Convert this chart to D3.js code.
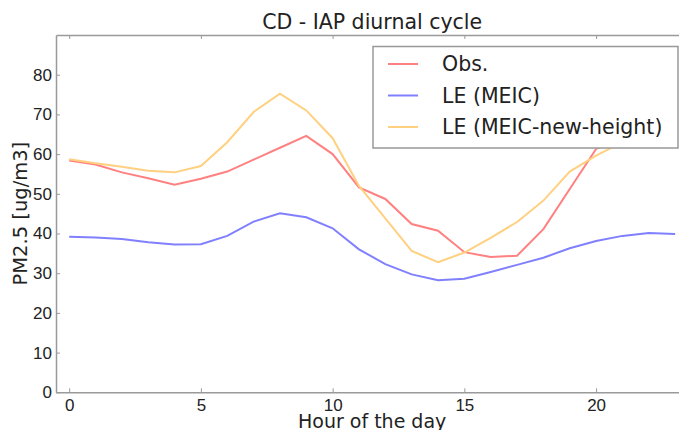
<!DOCTYPE html>
<html>
<head>
<meta charset="utf-8">
<script src="https://cdn.jsdelivr.net/npm/d3@7"></script>
<style>
  body { margin: 0; background: #fff; }
  svg { display: block; font-family: "DejaVu Sans", sans-serif; }
</style>
</head>
<body>
<div id="chart"></div>
<script>
// hours of the day
const hours = d3.range(0, 24);

// values
const obs = [58.4, 57.4, 55.4, 53.9, 52.3, 53.8, 55.6, 58.6, 61.6, 64.6, 60.0, 51.6,
             48.7, 42.4, 40.7, 35.3, 34.1, 34.4, 41.1, 51.2, 61.3, 64.5, 65.5, 64.0];
const leMeic = [39.2, 39.0, 38.6, 37.8, 37.2, 37.3, 39.4, 43.0, 45.1, 44.1, 41.3, 36.0,
                32.3, 29.7, 28.2, 28.6, 30.3, 32.1, 33.9, 36.3, 38.1, 39.4, 40.1, 39.9];
const leNewHeight = [58.7, 57.7, 56.8, 55.8, 55.4, 57.0, 63.0, 70.6, 75.2, 71.0, 64.0, 52.0,
                     43.8, 35.6, 32.8, 35.2, 38.9, 42.9, 48.3, 55.6, 59.6, 63.0, 63.6, 62.0];

const seriesNames = ["Obs.", "LE (MEIC)", "LE (MEIC-new-height)"];
const seriesColors = ["#ff8080", "#8080ff", "#ffd080"];
const yTicks = [0, 10, 20, 30, 40, 50, 60, 70, 80];
const xTicks = [0, 5, 10, 15, 20];

const width = 679, height = 430;
const marginLeft = 56, marginTop = 35, plotBottom = 392.3;

const x = d3.scaleLinear().domain([-0.5, 23.5]).range([marginLeft, 688.3]);
const y = d3.scaleLinear().domain([0, 90]).range([plotBottom, marginTop]);

const svg = d3.select("#chart").append("svg")
    .attr("width", width)
    .attr("height", height)
    .attr("viewBox", [0, 0, width, height]);

const spine = "#9a9a9a";

// lines
const line = d3.line()
    .x((d, i) => x(hours[i]))
    .y(d => y(d));

const allSeries = [obs, leMeic, leNewHeight];
svg.append("g")
    .attr("fill", "none")
    .attr("stroke-width", 2)
    .selectAll("path")
    .data(allSeries)
    .join("path")
    .attr("stroke", (d, i) => seriesColors[i])
    .attr("d", d => line(d));

// x axis bottom
svg.append("g")
    .attr("transform", `translate(0,${plotBottom})`)
    .call(d3.axisBottom(x).tickValues(xTicks).tickSizeInner(-4).tickSizeOuter(0).tickPadding(7))
    .call(g => g.select(".domain").attr("stroke", spine).attr("stroke-width", 1.5))
    .call(g => g.selectAll(".tick line").attr("stroke", spine))
    .call(g => g.selectAll(".tick text").attr("font-size", 17).attr("fill", "#222"));

// top ticks
svg.append("g")
    .attr("transform", `translate(0,${marginTop})`)
    .call(d3.axisTop(x).tickValues(xTicks).tickSizeInner(-4).tickSizeOuter(0).tickFormat(""))
    .call(g => g.select(".domain").attr("stroke", spine).attr("stroke-width", 1.5))
    .call(g => g.selectAll(".tick line").attr("stroke", spine));

// y axis
svg.append("g")
    .attr("transform", `translate(${marginLeft},0)`)
    .call(d3.axisLeft(y).tickValues(yTicks).tickSizeInner(-4).tickSizeOuter(0).tickPadding(4))
    .call(g => g.select(".domain").attr("stroke", spine).attr("stroke-width", 1.5))
    .call(g => g.selectAll(".tick line").attr("stroke", spine))
    .call(g => g.selectAll(".tick text").attr("font-size", 17).attr("fill", "#222"));

// title and axis labels
svg.append("text")
    .attr("x", (marginLeft + 688.3) / 2)
    .attr("y", 29)
    .attr("text-anchor", "middle")
    .attr("font-size", 20.5)
    .attr("fill", "#222")
    .text("CD - IAP diurnal cycle");

svg.append("text")
    .attr("x", (marginLeft + 688.3) / 2)
    .attr("y", 428)
    .attr("text-anchor", "middle")
    .attr("font-size", 19)
    .attr("fill", "#222")
    .text("Hour of the day");

svg.append("text")
    .attr("transform", `translate(27,${(marginTop + plotBottom) / 2}) rotate(-90)`)
    .attr("text-anchor", "middle")
    .attr("font-size", 19.5)
    .attr("fill", "#222")
    .text("PM2.5 [ug/m3]");

// legend
const legend = svg.append("g").attr("transform", "translate(373,46.5)");
legend.append("rect")
    .attr("width", 305)
    .attr("height", 101.5)
    .attr("fill", "#fff")
    .attr("stroke", "#999")
    .attr("stroke-width", 1.5);

const item = legend.selectAll("g.item")
    .data(seriesNames)
    .join("g")
    .attr("class", "item")
    .attr("transform", (d, i) => `translate(0,${17.5 + i * 31.5})`);

item.append("line")
    .attr("x1", 15).attr("x2", 45)
    .attr("stroke", (d, i) => seriesColors[i])
    .attr("stroke-width", 2);

item.append("text")
    .attr("x", 69)
    .attr("dy", "0.36em")
    .attr("font-size", 20.5)
    .attr("fill", "#222")
    .text(d => d);
</script>
</body>
</html>
